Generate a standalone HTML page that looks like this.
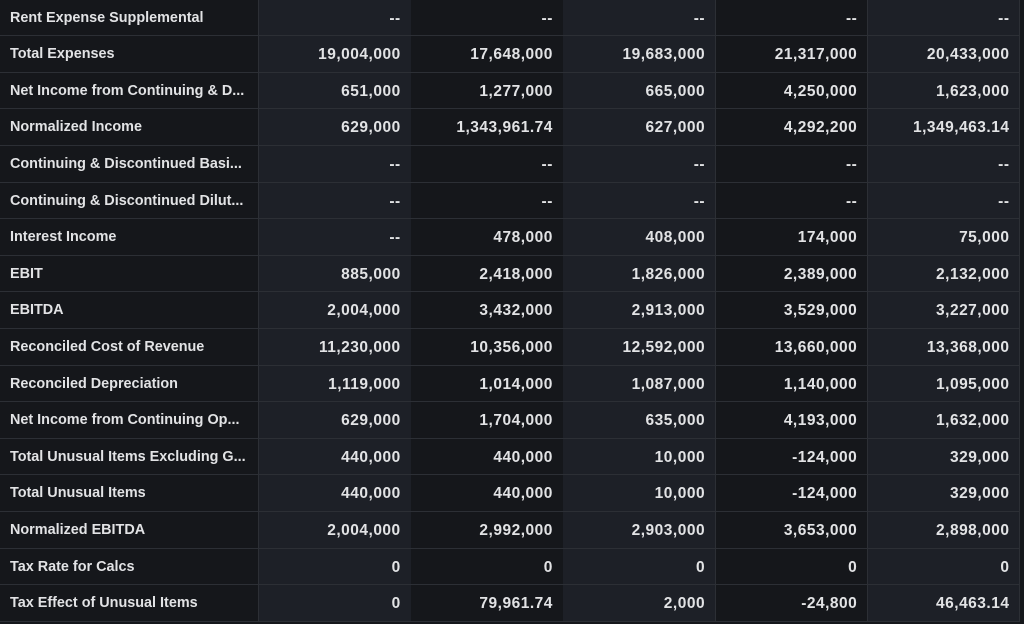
<!DOCTYPE html>
<html><head><meta charset="utf-8"><style>
html,body{margin:0;padding:0;background:#15171b;width:1024px;height:624px;overflow:hidden}
#t{position:relative;width:1024px;height:624px;font-family:"Liberation Sans",sans-serif;font-size:14.4px;font-weight:bold;color:#e2e3e5}
.c{position:absolute;box-sizing:border-box;height:36.6px;line-height:37px;border-bottom:1px solid #2c2f35;white-space:nowrap;overflow:hidden}
.lab{left:0;width:259px;padding-left:10px;background:#15171b;border-right:1px solid #2c2f35}
.v{text-align:right;padding-right:10px;border-right:1px solid #2c2f35;font-size:15.5px;letter-spacing:0.5px}
.odd{background:#1d2027}.even{background:#15171b}
</style></head><body>
<div id="t"></div>
<script>
const labels=["Rent Expense Supplemental","Total Expenses","Net Income from Continuing & D...","Normalized Income","Continuing & Discontinued Basi...","Continuing & Discontinued Dilut...","Interest Income","EBIT","EBITDA","Reconciled Cost of Revenue","Reconciled Depreciation","Net Income from Continuing Op...","Total Unusual Items Excluding G...","Total Unusual Items","Normalized EBITDA","Tax Rate for Calcs","Tax Effect of Unusual Items"];
const values=[
["--","--","--","--","--"],
["19,004,000","17,648,000","19,683,000","21,317,000","20,433,000"],
["651,000","1,277,000","665,000","4,250,000","1,623,000"],
["629,000","1,343,961.74","627,000","4,292,200","1,349,463.14"],
["--","--","--","--","--"],
["--","--","--","--","--"],
["--","478,000","408,000","174,000","75,000"],
["885,000","2,418,000","1,826,000","2,389,000","2,132,000"],
["2,004,000","3,432,000","2,913,000","3,529,000","3,227,000"],
["11,230,000","10,356,000","12,592,000","13,660,000","13,368,000"],
["1,119,000","1,014,000","1,087,000","1,140,000","1,095,000"],
["629,000","1,704,000","635,000","4,193,000","1,632,000"],
["440,000","440,000","10,000","-124,000","329,000"],
["440,000","440,000","10,000","-124,000","329,000"],
["2,004,000","2,992,000","2,903,000","3,653,000","2,898,000"],
["0","0","0","0","0"],
["0","79,961.74","2,000","-24,800","46,463.14"]];
const t=document.getElementById('t');
const RH=36.6,X0=259,CW=152.2;
labels.forEach((l,i)=>{
 const d=document.createElement('div');
 d.className='c lab';d.style.top=(i*RH-0.4)+'px';d.textContent=l;
 
 
 t.appendChild(d);
 values[i].forEach((v,j)=>{
  const e=document.createElement('div');
  e.className='c v '+(j%2===0?'odd':'even');
  e.style.top=(i*RH-0.4)+'px';e.style.left=(X0+j*CW)+'px';e.style.width=(CW+0.5)+'px';
  e.textContent=v;
  
  
  t.appendChild(e);
 });
});
</script>
</body></html>
